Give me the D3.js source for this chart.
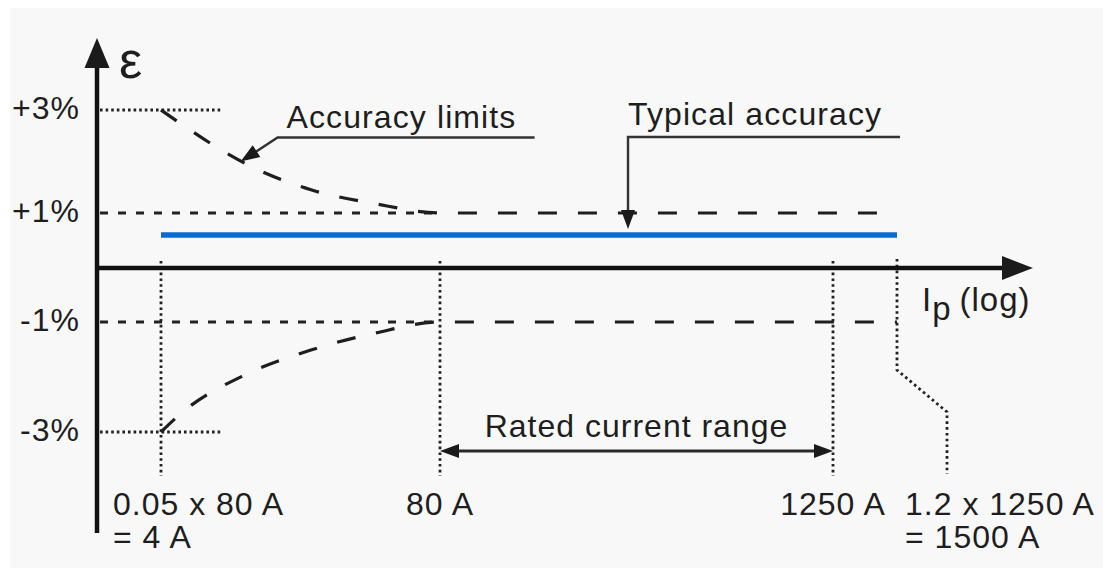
<!DOCTYPE html>
<html>
<head>
<meta charset="utf-8">
<script src="https://cdn.jsdelivr.net/npm/d3@7"></script>
<style>
  html, body { margin: 0; padding: 0; background: #ffffff; }
  svg { display: block; }
  text { font-family: "Liberation Sans", Arial, Helvetica, sans-serif; fill: #1e1e1e; }
</style>
</head>
<body>
<svg id="chart" width="1103" height="568"></svg>
<script>
// Primary current levels marked on the log axis (A)
const currentMarks = [4, 80, 1250, 1500];
const currentLabels = [["0.05 x 80 A", "= 4 A"], ["80 A"], ["1250 A"], ["1.2 x 1250 A", "= 1500 A"]];

// Error levels (%) on the vertical axis
const errorTicks = [3, 1, -1, -3];
const errorTickLabels = ["+3%", "+1%", "-1%", "-3%"];

// Accuracy limit envelope (current in A, error in %)
const limitCurrents = [4, 5, 10, 20, 40, 80, 1500];
const upperLimit = [3, 2.72, 1.95, 1.45, 1.18, 1.0, 1.0];
const lowerLimit = [-3, -2.65, -1.95, -1.51, -1.2, -1.0, -1.0];

// Typical accuracy across the whole span
const typicalCurrents = [4, 1500];
const typicalError = [0.6, 0.6];

// Rated current range (A)
const ratedRange = [80, 1250];

// Annotation targets: [current A, error %]
const limitsNote = { text: "Accuracy limits", at: [9.4, 2.0] };
const typicalNote = { text: "Typical accuracy", at: [298, 0.6] };

const svg = d3.select("#chart");
const W = 1103, H = 568;
const INK = "#1b1b1b";

svg.append("rect").attr("x", 10).attr("y", 8).attr("width", W - 10).attr("height", H - 8)
  .attr("fill", "#f8f8f8");

// Schematic log axis: piecewise log scale through the marked currents
const x = d3.scaleLog().domain(currentMarks).range([161, 440, 833, 897]);
const y = d3.scaleLinear().domain([-3, -1, 0, 1, 3]).range([432, 322, 268, 213, 110]);

const axisX = 97;              // position of the vertical axis
const axisTop = 38, axisBottom = 533;
const xAxisEnd = 1033;
const y0 = y(0);

function arrowHead(g, tip, from, len, half) {
  const dx = tip[0] - from[0], dy = tip[1] - from[1];
  const L = Math.hypot(dx, dy), ux = dx / L, uy = dy / L;
  const bx = tip[0] - ux * len, by = tip[1] - uy * len;
  g.append("path")
    .attr("d", `M${tip[0]},${tip[1]}L${bx - uy * half},${by + ux * half}L${bx + uy * half},${by - ux * half}Z`)
    .attr("fill", INK);
}

// Dotted reference lines at ±3 %
const ref = svg.append("g").attr("stroke", "#222").attr("fill", "none");
[3, -3].forEach(v => {
  ref.append("line")
    .attr("x1", axisX + 3).attr("x2", x(currentMarks[0]) + 60)
    .attr("y1", y(v)).attr("y2", y(v))
    .attr("stroke-width", 2.8).attr("stroke-dasharray", "2.6,3");
});
// Short-dashed reference lines at ±1 %
[1, -1].forEach(v => {
  ref.append("line")
    .attr("x1", axisX + 3).attr("x2", x(ratedRange[0]))
    .attr("y1", y(v)).attr("y2", y(v))
    .attr("stroke-width", 3.2).attr("stroke-dasharray", "8,10");
});

// Vertical dotted drop lines at the marked currents
currentMarks.slice(0, 3).forEach(c => {
  ref.append("line")
    .attr("x1", x(c)).attr("x2", x(c))
    .attr("y1", y0 - 7).attr("y2", 476)
    .attr("stroke-width", 2.8).attr("stroke-dasharray", "2.6,3.2");
});
const xo = x(currentMarks[3]);
ref.append("path")
  .attr("d", `M${xo},${y0 - 9}V370L${xo + 50},412V474`)
  .attr("stroke-width", 2.8).attr("stroke-dasharray", "2.6,3.2");

// Accuracy limit envelope (long dashes)
const limitLine = d3.line().x(d => x(d[0])).y(d => y(d[1])).curve(d3.curveMonotoneX);
[upperLimit, lowerLimit].forEach(arr => {
  svg.append("path")
    .attr("d", limitLine(limitCurrents.map((c, i) => [c, arr[i]])))
    .attr("fill", "none").attr("stroke", "#1e1e1e")
    .attr("stroke-width", 3.2).attr("stroke-dasharray", "19,21");
});

// Typical accuracy
svg.append("path")
  .attr("d", d3.line().x(d => x(d[0])).y(d => y(d[1]))(typicalCurrents.map((c, i) => [c, typicalError[i]])))
  .attr("stroke", "#0a6dce").attr("stroke-width", 5.5).attr("fill", "none");

// Axes lines with arrow heads
const axes = svg.append("g");
axes.append("line").attr("x1", axisX).attr("x2", axisX).attr("y1", axisBottom).attr("y2", axisTop + 20)
  .attr("stroke", "#111").attr("stroke-width", 4.5);
arrowHead(axes, [axisX, axisTop], [axisX, axisBottom], 30, 12.5);
axes.append("line").attr("x1", axisX - 2).attr("x2", xAxisEnd - 20).attr("y1", y0).attr("y2", y0)
  .attr("stroke", "#111").attr("stroke-width", 4.5);
arrowHead(axes, [xAxisEnd, y0], [axisX, y0], 31, 12);

// Vertical axis labels
const yAxis = d3.axisLeft(y).tickValues(errorTicks)
  .tickFormat((d, i) => errorTickLabels[i]).tickSize(0).tickPadding(17);
svg.append("g").attr("transform", `translate(${axisX},0)`).call(yAxis)
  .call(g => g.select(".domain").remove())
  .call(g => g.selectAll("text")
    .attr("font-family", '"Liberation Sans", Arial, sans-serif')
    .attr("font-size", 32).attr("letter-spacing", 1)
    .attr("dy", 8).attr("fill", "#1e1e1e"));

svg.append("text").attr("x", axisX + 22).attr("y", 78)
  .attr("font-family", '"Liberation Serif", "DejaVu Serif", serif')
  .attr("font-size", 52).text("ε");

const ip = svg.append("text").attr("x", xAxisEnd - 111).attr("y", y0 + 43)
  .attr("font-size", 33).attr("letter-spacing", 1);
ip.append("tspan").text("I");
ip.append("tspan").attr("dy", 9).text("p");
ip.append("tspan").attr("dy", -9).attr("dx", 8).text("(log)");

// Current labels below the axis
const labelRows = [515, 548];
const labelAnchor = ["start", "middle", "middle", "start"];
const labelShift = [-48, 0, 0, 8];
currentLabels.forEach((lines, i) => {
  const t = svg.append("text")
    .attr("font-size", 32).attr("letter-spacing", 1)
    .attr("text-anchor", labelAnchor[i]);
  lines.forEach((s, k) => {
    t.append("tspan").attr("x", x(currentMarks[i]) + labelShift[i]).attr("y", labelRows[k]).text(s);
  });
});

// Rated current range: double-headed arrow
const ry = y(-3) + 19;
const rg = svg.append("g");
rg.append("line").attr("x1", x(ratedRange[0]) + 10).attr("x2", x(ratedRange[1]) - 10)
  .attr("y1", ry).attr("y2", ry).attr("stroke", "#2a2a2a").attr("stroke-width", 3);
arrowHead(rg, [x(ratedRange[0]), ry], [x(ratedRange[1]), ry], 19, 7);
arrowHead(rg, [x(ratedRange[1]), ry], [x(ratedRange[0]), ry], 19, 7);
rg.append("text").attr("x", (x(ratedRange[0]) + x(ratedRange[1])) / 2).attr("y", ry - 14)
  .attr("text-anchor", "middle").attr("font-size", 32).attr("letter-spacing", 1)
  .text("Rated current range");

// Leader: accuracy limits
{
  const tip = [x(limitsNote.at[0]), y(limitsNote.at[1])];
  const knee = [tip[0] + 37, tip[1] - 24];
  const g = svg.append("g");
  g.append("path").attr("d", `M${knee[0] + 257},${knee[1]}H${knee[0]}L${tip[0] + 8},${tip[1] - 5}`)
    .attr("fill", "none").attr("stroke", "#333").attr("stroke-width", 2.4);
  arrowHead(g, tip, knee, 19, 7);
  g.append("text").attr("x", knee[0] + 9).attr("y", knee[1] - 10)
    .attr("font-size", 32).attr("letter-spacing", 1.1).text(limitsNote.text);
}

// Leader: typical accuracy
{
  const tip = [x(typicalNote.at[0]), y(typicalNote.at[1]) - 6];
  const knee = [tip[0], 137];
  const g = svg.append("g");
  g.append("path").attr("d", `M${knee[0] + 272},${knee[1]}H${knee[0]}V${tip[1] - 12}`)
    .attr("fill", "none").attr("stroke", "#333").attr("stroke-width", 2.4);
  arrowHead(g, tip, knee, 19, 7);
  g.append("text").attr("x", knee[0]).attr("y", knee[1] - 12)
    .attr("font-size", 32).attr("letter-spacing", 1.1).text(typicalNote.text);
}
</script>
</body>
</html>
